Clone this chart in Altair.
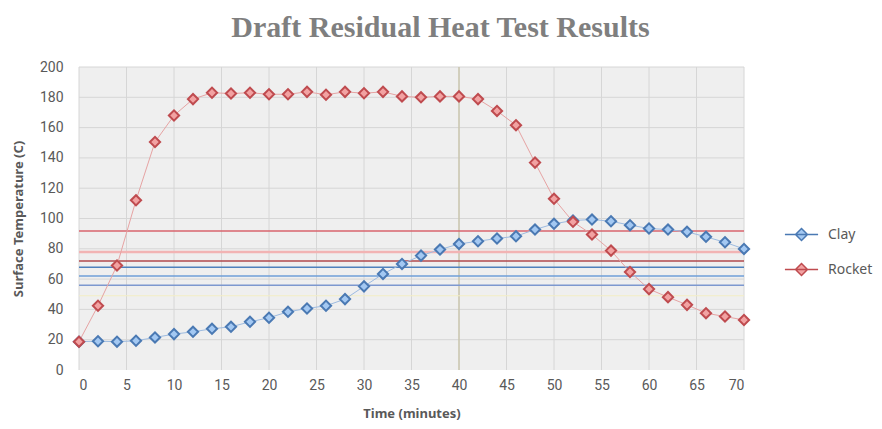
import altair as alt
import pandas as pd

# ---- data ----
minutes = [0, 2, 4, 6, 8, 10, 12, 14, 16, 18, 20, 22, 24, 26, 28, 30, 32, 34,
           36, 38, 40, 42, 44, 46, 48, 50, 52, 54, 56, 58, 60, 62, 64, 66, 68, 70]
clay = [18.7, 19, 18.7, 19.3, 21.5, 23.7, 25.2, 27.2, 28.5, 31.8, 34.5, 38.4,
        40.6, 42.4, 46.8, 55.2, 63.4, 70, 75.5, 79.5, 83.2, 85, 86.8, 88.3,
        92.7, 96.5, 98.7, 99.3, 98.2, 95.6, 93.4, 92.7, 91.2, 87.9, 84.3, 79.9]
rocket = [18.7, 42.4, 69, 112, 150.5, 168, 178.8, 183, 182.5, 183, 182, 182,
          183.6, 181.7, 183.6, 182.7, 183.6, 180.6, 180, 180.6, 180.6, 178.8,
          171, 161.6, 136.9, 113, 97.8, 89.4, 78.8, 64.7, 53.4, 48.1, 43, 37.5,
          35.3, 33]
series_names = ["Clay", "Rocket"]
ref_values = [91.7, 77.9, 71.9, 67.8, 62.0, 55.9, 49.0]
marker_x = [40]
x_ticks = [0, 5, 10, 15, 20, 25, 30, 35, 40, 45, 50, 55, 60, 65, 70]
y_ticks = [0, 20, 40, 60, 80, 100, 120, 140, 160, 180, 200]

# ---- styles ----
ref_colors = ["#d9646e", "#f2b4b4", "#b04a4e", "#4f81bd", "#6f9fd8", "#7d98cf", "#f3eec4"]
ref_widths = [1.6, 2.6, 1.6, 1.6, 1.6, 1.6, 1.2]
line_colors = {"Clay": "#9dbbe0", "Rocket": "#e6a3a3"}
fill_range = ["#a3c8f2", "#f2a2a2"]
stroke_range = ["#4a79b3", "#bf4b4f"]

W, H = 665, 303
TXT = "#595959"
BG = "#efefef"

rows = []
for name, vals in zip(series_names, [clay, rocket]):
    for m, v in zip(minutes, vals):
        rows.append({"series": name, "minutes": m, "temp": v, "lc": line_colors[name]})
df = pd.DataFrame(rows)

ref_df = pd.DataFrame({"y": ref_values, "c": ref_colors, "w": ref_widths})

xscale = alt.Scale(domain=[0, 70], nice=False, zero=False)
yscale = alt.Scale(domain=[0, 200], nice=False)

x_axis = alt.Axis(values=x_ticks, grid=False, domain=False, ticks=False,
                  labelPadding=8, labelFont="Roboto", labelFontSize=14, labelOverlap=False,
                  labelColor=TXT, title="Time (minutes)", titleFont="Noto Sans",
                  titleFontSize=13, titleFontWeight="bold", titleColor=TXT,
                  titleY=43, titleBaseline="middle")
y_axis = alt.Axis(values=y_ticks, grid=False, domain=False, ticks=False,
                  labelPadding=16, labelFont="Roboto", labelFontSize=14, labelOverlap=False,
                  labelColor=TXT, title="Surface Temperature (C)", titleFont="Noto Sans",
                  titleFontSize=13, titleFontWeight="bold", titleColor=TXT,
                  titleX=-61, titleY=H / 2, titleBaseline="middle", titleAngle=-90)


def X(field):
    return alt.X(field, scale=xscale, axis=x_axis, title="Time (minutes)")


def Y(field):
    return alt.Y(field, scale=yscale, axis=y_axis, title="Surface Temperature (C)")


vgrid = alt.Chart(pd.DataFrame({"x": x_ticks})).mark_rule(color="#d6d6d6", strokeWidth=1).encode(
    x=X("x:Q"))
hgrid = alt.Chart(pd.DataFrame({"y": y_ticks[1:]})).mark_rule(color="#d6d6d6", strokeWidth=1).encode(
    y=Y("y:Q"))
vmark = alt.Chart(pd.DataFrame({"x": marker_x})).mark_rule(color="#c7c2a4", strokeWidth=1.2).encode(
    x=X("x:Q"))

refs = alt.Chart(ref_df).mark_rule().encode(
    y=Y("y:Q"),
    color=alt.Color("c:N", scale=None),
    strokeWidth=alt.StrokeWidth("w:Q", scale=None),
)

lines = alt.Chart(df).mark_line(strokeWidth=1).encode(
    x=X("minutes:Q"),
    y=Y("temp:Q"),
    color=alt.Color("lc:N", scale=None),
    detail="series:N",
)

diamond_legend = "M-1,0L1,0M0,-0.36L0.36,0L0,0.36L-0.36,0Z"
leg = dict(title=None, orient="none", legendX=705, legendY=150,
           symbolType=diamond_legend, symbolSize=1100,
           symbolStrokeWidth=1.5, labelFont="Noto Sans",
           labelFontSize=14, labelColor=TXT, rowPadding=8,
           labelOffset=9)
points = alt.Chart(df).mark_point(shape="diamond", size=105, filled=True,
                                  strokeWidth=2, opacity=1).encode(
    x=X("minutes:Q"),
    y=Y("temp:Q"),
    fill=alt.Fill("series:N", scale=alt.Scale(domain=series_names, range=fill_range),
                  legend=alt.Legend(**leg)),
    stroke=alt.Stroke("series:N", scale=alt.Scale(domain=series_names, range=stroke_range),
                      legend=alt.Legend(**leg)),
)

chart = alt.layer(vgrid, hgrid, vmark, refs, lines, points).properties(
    width=W, height=H,
    autosize=alt.AutoSizeParams(type="none"),
    padding={"left": 71, "top": 59, "right": 130, "bottom": 51},
    title=alt.TitleParams("Draft Residual Heat Test Results", font="Liberation Serif",
                          fontSize=30, fontWeight="bold", color="#7f7f7f",
                          anchor="middle", dx=29, dy=38, offset=31, baseline="alphabetic"),
).configure_view(stroke=None, fill=BG)

chart.save("out.html", embed_options={"renderer": "svg", "actions": False})
